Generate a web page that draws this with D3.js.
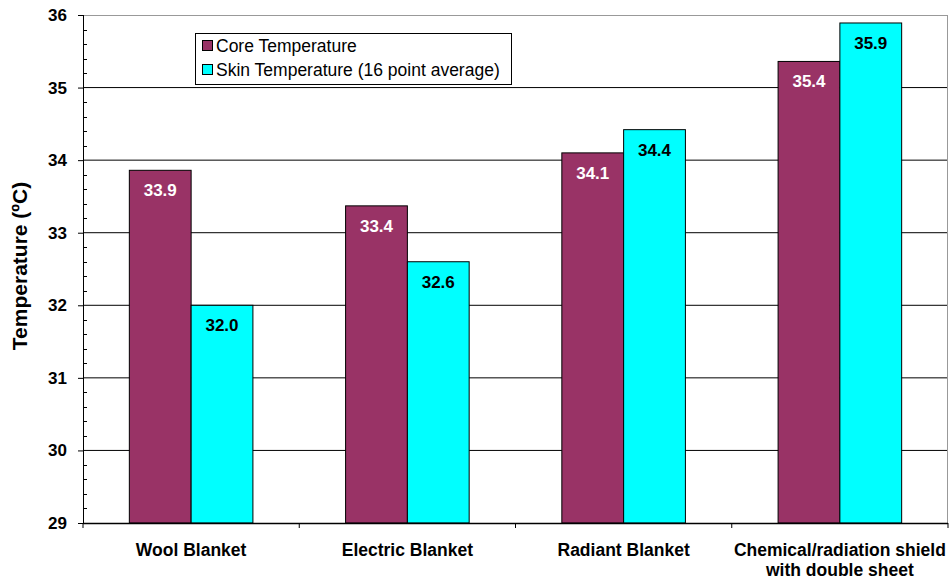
<!DOCTYPE html>
<html>
<head>
<meta charset="utf-8">
<script src="https://cdn.jsdelivr.net/npm/d3@7"></script>
<style>
  html, body { margin: 0; padding: 0; background: #fff; }
  svg text { font-family: "Liberation Sans", Arial, sans-serif; }
</style>
</head>
<body>
<svg id="chart" width="950" height="579"></svg>
<script>
// data
const categories = ["Wool Blanket", "Electric Blanket", "Radiant Blanket", "Chemical/radiation shield|with double sheet"];
const coreTemp = [33.86, 33.37, 34.1, 35.36];
const skinTemp = [32.0, 32.6, 34.42, 35.89];
const seriesNames = ["Core Temperature", "Skin Temperature (16 point average)"];
const yTicks = [29, 30, 31, 32, 33, 34, 35, 36];

const C = { core: "#993366", skin: "#00ffff" };

const M = { t: 15, r: 2, b: 56, l: 83 },
  W = 950, H = 579,
  w = W - M.l - M.r, h = H - M.t - M.b;

const svg = d3.select("#chart");
const g = svg.append("g").attr("transform", `translate(${M.l},${M.t})`);

const y = d3.scaleLinear().domain([29, 36]).range([h, 0]);
const x0 = d3.scaleBand().domain(d3.range(categories.length)).range([0, w]);
// Excel-like gap width 150%: group = 2 bars, gap = 1.5 bars
const barW = x0.bandwidth() / 3.5;
const x1 = d3.scaleBand().domain([0, 1]).range([0, barW * 2]);

// gridlines
g.append("g")
  .selectAll("line")
  .data(yTicks.filter((d) => d > 29 && d < 36))
  .join("line")
  .attr("x1", 0).attr("x2", w)
  .attr("y1", (d) => y(d)).attr("y2", (d) => y(d))
  .attr("stroke", "#000").attr("stroke-width", 1);

// plot border top/right
g.append("line").attr("x1", 0).attr("x2", w).attr("y1", 0.5).attr("y2", 0.5)
  .attr("stroke", "#999");
g.append("line").attr("x1", w - 0.5).attr("x2", w - 0.5).attr("y1", 0).attr("y2", h)
  .attr("stroke", "#999");

// bars
const rows = categories.map((c, i) => ({ i, vals: [coreTemp[i], skinTemp[i]] }));
const grp = g.selectAll(".grp").data(rows).join("g")
  .attr("transform", (d) => `translate(${x0(d.i) + (x0.bandwidth() - barW * 2) / 2},0)`);

grp.selectAll("rect")
  .data((d) => d.vals.map((v, k) => ({ v, k })))
  .join("rect")
  .attr("x", (d) => x1(d.k))
  .attr("y", (d) => y(d.v))
  .attr("width", x1.bandwidth())
  .attr("height", (d) => h - y(d.v))
  .attr("fill", (d) => (d.k === 0 ? C.core : C.skin))
  .attr("stroke", "#000")
  .attr("stroke-width", 1);

grp.selectAll("text.val")
  .data((d) => d.vals.map((v, k) => ({ v, k })))
  .join("text")
  .attr("class", "val")
  .attr("x", (d) => x1(d.k) + x1.bandwidth() / 2)
  .attr("y", (d) => y(d.v) + 26)
  .attr("text-anchor", "middle")
  .attr("font-size", "17px")
  .attr("font-weight", "bold")
  .attr("fill", (d) => (d.k === 0 ? "#fff" : "#000"))
  .text((d) => d.v.toFixed(1));

// y axis
const yAxis = g.append("g")
  .call(d3.axisLeft(y).tickValues(yTicks).tickSize(5).tickPadding(11).tickFormat(d3.format("d")));
yAxis.select(".domain").attr("stroke", "#000").attr("d", `M0.5,0V${h}`);
yAxis.selectAll("text").attr("font-size", "17px").attr("font-weight", "bold").attr("fill", "#000")
  .attr("font-family", "Liberation Sans, Arial, sans-serif");
yAxis.selectAll(".tick line").attr("stroke", "#000");

// minor ticks inside
const minor = d3.range(29, 36.001, 0.2).filter((d) => Math.abs(d - Math.round(d)) > 0.01);
g.append("g").selectAll("line").data(minor).join("line")
  .attr("x1", 0).attr("x2", 4)
  .attr("y1", (d) => Math.round(y(d)) + 0.5).attr("y2", (d) => Math.round(y(d)) + 0.5)
  .attr("stroke", "#000");

// x axis
g.append("line").attr("x1", 0).attr("x2", w).attr("y1", h + 0.5).attr("y2", h + 0.5)
  .attr("stroke", "#000").attr("stroke-width", 1.5);
g.append("g").selectAll("line").data(d3.range(categories.length + 1)).join("line")
  .attr("x1", (d) => d * x0.step()).attr("x2", (d) => d * x0.step())
  .attr("y1", h).attr("y2", h + 5)
  .attr("stroke", "#000");

const xl = g.append("g").selectAll("text").data(categories).join("text")
  .attr("x", (d, i) => x0(i) + x0.bandwidth() / 2)
  .attr("y", h + 33)
  .attr("text-anchor", "middle")
  .attr("font-size", "17.5px")
  .attr("font-weight", "bold")
  .attr("fill", "#000");
xl.each(function (d) {
  const parts = d.split("|");
  const t = d3.select(this);
  parts.forEach((p, k) => {
    t.append("tspan").attr("x", t.attr("x")).attr("dy", k === 0 ? 0 : 20).text(p);
  });
});

// y title
svg.append("text")
  .attr("transform", `translate(27,266) rotate(-90)`)
  .attr("text-anchor", "middle")
  .attr("font-size", "21px")
  .attr("font-weight", "bold")
  .attr("fill", "#000")
  .text("Temperature (ºC)");

// legend
const lg = svg.append("g").attr("transform", "translate(195,33)");
lg.append("rect").attr("x", 0.5).attr("y", 0.5).attr("width", 316).attr("height", 51)
  .attr("fill", "#fff").attr("stroke", "#000");
seriesNames.forEach((s, i) => {
  const yy = 13 + i * 24;
  lg.append("rect").attr("x", 7.5).attr("y", yy - 5.5).attr("width", 10).attr("height", 10)
    .attr("fill", i === 0 ? C.core : C.skin).attr("stroke", "#000");
  lg.append("text").attr("x", 21).attr("y", yy + 6)
    .attr("font-size", "17.5px").attr("fill", "#000").text(s);
});
</script>
</body>
</html>
